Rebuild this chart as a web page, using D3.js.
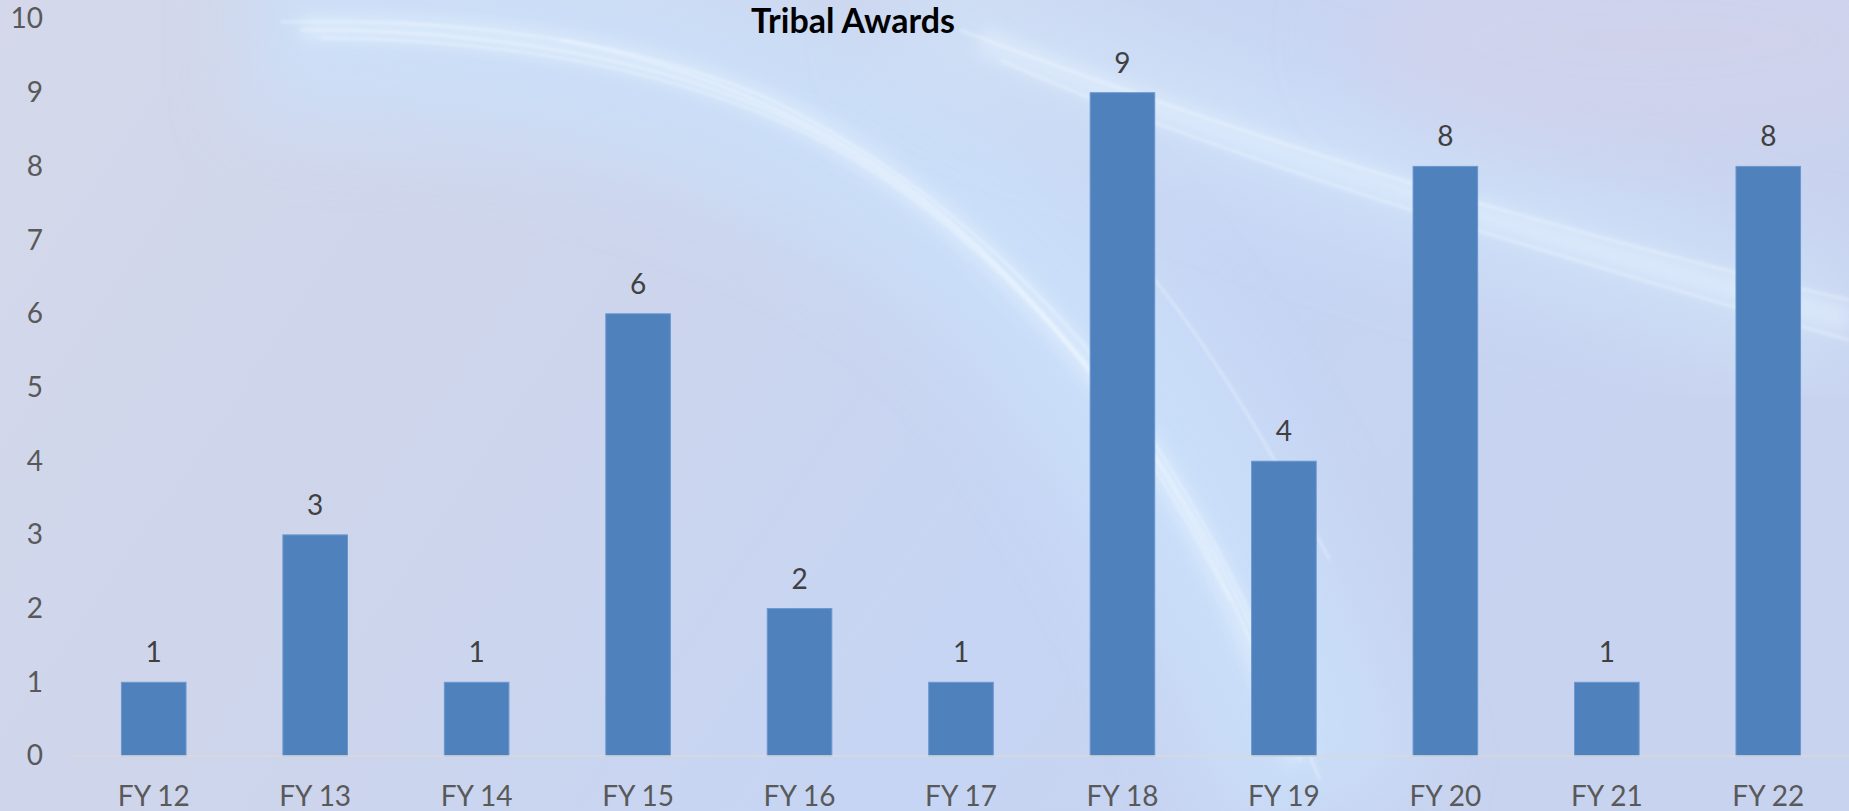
<!DOCTYPE html>
<html>
<head>
<meta charset="utf-8">
<script src="https://cdn.jsdelivr.net/npm/d3@7"></script>
<style>
  html, body { margin: 0; padding: 0; overflow: hidden; }
  svg { display: block; font-family: Lato, "Open Sans", sans-serif; }
</style>
</head>
<body>
<svg id="chart"></svg>
<script>
// data
const years = ["FY 12", "FY 13", "FY 14", "FY 15", "FY 16", "FY 17", "FY 18", "FY 19", "FY 20", "FY 21", "FY 22"];
const awards = [1, 3, 1, 6, 2, 1, 9, 4, 8, 1, 8];
const yTicks = [0, 1, 2, 3, 4, 5, 6, 7, 8, 9, 10];
const chartTitle = "Tribal Awards";

const width = 1849, height = 811;
const margin = { top: 19, right: 0, bottom: 55, left: 73 };

const svg = d3.select("#chart")
    .attr("width", width)
    .attr("height", height);

// background: soft gradient with light streaks
const defs = svg.append("defs");
const bg = defs.append("linearGradient")
    .attr("id", "bg").attr("x1", 0).attr("y1", 0).attr("x2", 1).attr("y2", 0.3);
bg.append("stop").attr("offset", "0%").attr("stop-color", "#d4d8ea");
bg.append("stop").attr("offset", "40%").attr("stop-color", "#cdd5ec");
bg.append("stop").attr("offset", "70%").attr("stop-color", "#c6d5f4");
bg.append("stop").attr("offset", "100%").attr("stop-color", "#c8d3ef");

defs.append("filter").attr("id", "blurBig")
    .attr("x", "-20%").attr("y", "-20%").attr("width", "140%").attr("height", "140%")
    .append("feGaussianBlur").attr("stdDeviation", 40);
defs.append("filter").attr("id", "blurMid")
    .attr("x", "-10%").attr("y", "-10%").attr("width", "120%").attr("height", "120%")
    .append("feGaussianBlur").attr("stdDeviation", 8);
defs.append("filter").attr("id", "blurSmall")
    .append("feGaussianBlur").attr("stdDeviation", 1.6);

svg.append("rect")
    .attr("width", width).attr("height", height)
    .attr("fill", "url(#bg)");

const streaks = svg.append("g").attr("class", "streaks");

// broad bluish glow band
streaks.append("path")
    .attr("d", "M250,20 C600,20 900,120 1050,300 C1180,460 1260,620 1330,811")
    .attr("fill", "none").attr("stroke", "#cae1fb").attr("stroke-width", 200)
    .attr("opacity", 0.75).attr("filter", "url(#blurBig)");
streaks.append("path")
    .attr("d", "M900,0 C1200,120 1500,220 1849,330")
    .attr("fill", "none").attr("stroke", "#d2e6fb").attr("stroke-width", 120)
    .attr("opacity", 0.6).attr("filter", "url(#blurBig)");
// top right lavender
streaks.append("ellipse")
    .attr("cx", 1650).attr("cy", 40).attr("rx", 300).attr("ry", 110)
    .attr("fill", "#d6d2e8").attr("opacity", 0.6).attr("filter", "url(#blurBig)");

// soft white haze along the arcs
const hazes = [
    "M300,28 C520,26 680,60 800,120 C930,190 1020,280 1100,380 C1170,470 1230,580 1300,760",
    "M980,40 C1250,150 1550,240 1849,320"
];
streaks.selectAll("path.haze")
    .data(hazes)
    .enter().append("path")
    .attr("class", "haze")
    .attr("d", d => d)
    .attr("fill", "none")
    .attr("stroke", "#e8f4ff")
    .attr("stroke-width", 28)
    .attr("opacity", 0.45)
    .attr("filter", "url(#blurMid)");

// thin bright lines
const lines = [
    "M280,22 C480,18 640,45 760,95 C900,160 1000,250 1080,340 C1160,440 1230,560 1290,700",
    "M300,30 C500,30 660,60 790,120 C920,185 1010,270 1100,380 C1170,470 1230,580 1300,760",
    "M320,38 C520,40 680,72 810,135 C935,200 1025,290 1115,400 C1185,490 1245,600 1320,780",
    "M560,40 C720,70 860,140 960,230 C1060,320 1140,430 1230,600",
    "M1000,60 C1200,150 1500,240 1849,340",
    "M960,30 C1250,140 1550,230 1849,300",
    "M1130,250 C1200,330 1260,430 1330,560"
];
streaks.selectAll("path.line")
    .data(lines)
    .enter().append("path")
    .attr("class", "line")
    .attr("d", d => d)
    .attr("fill", "none")
    .attr("stroke", "#f6fbff")
    .attr("stroke-width", 2.5)
    .attr("opacity", 0.4)
    .attr("filter", "url(#blurSmall)");

// scales
const xScale = d3.scaleBand()
    .domain(years)
    .range([margin.left, width - margin.right])
    .paddingInner(0.6)
    .paddingOuter(0.3);

const yScale = d3.scaleLinear()
    .domain([0, 10])
    .range([height - margin.bottom, margin.top]);

// y axis labels (no line)
const yAxis = svg.append("g")
    .attr("transform", `translate(43,0)`)
    .call(d3.axisLeft(yScale).tickValues(yTicks).tickSize(0).tickPadding(0));
yAxis.select(".domain").remove();
yAxis.selectAll("text")
    .attr("fill", "#595959")
    .style("font-family", "Lato, sans-serif")
    .style("font-size", "28px");

// bars
svg.selectAll("rect.bar")
    .data(awards)
    .enter().append("rect")
    .attr("class", "bar")
    .attr("x", (d, i) => xScale(years[i]))
    .attr("y", d => yScale(d))
    .attr("width", xScale.bandwidth())
    .attr("height", d => yScale(0) - yScale(d))
    .attr("fill", "#4f81bd")
    .attr("stroke", "#6b97cf")
    .attr("stroke-width", 1);

// baseline
svg.append("line")
    .attr("x1", margin.left).attr("x2", width)
    .attr("y1", yScale(0)).attr("y2", yScale(0))
    .attr("stroke", "#d9d9d9")
    .attr("stroke-width", 1.5);

// x axis labels
const xAxis = svg.append("g")
    .attr("transform", `translate(0,${yScale(0)})`)
    .call(d3.axisBottom(xScale).tickSize(0).tickPadding(30));
xAxis.select(".domain").remove();
xAxis.selectAll("text")
    .attr("fill", "#595959")
    .style("font-family", "Lato, sans-serif")
    .style("font-size", "28px");

// value labels
svg.selectAll("text.value")
    .data(awards)
    .enter().append("text")
    .attr("class", "value")
    .attr("x", (d, i) => xScale(years[i]) + xScale.bandwidth() / 2)
    .attr("y", d => yScale(d) - 20)
    .attr("text-anchor", "middle")
    .attr("fill", "#404040")
    .style("font-size", "28px")
    .text(d => d);

// title
svg.append("text")
    .attr("x", 853)
    .attr("y", 33)
    .attr("text-anchor", "middle")
    .attr("fill", "#000")
    .style("font-size", "34px")
    .style("font-weight", "bold")
    .text(chartTitle);
</script>
</body>
</html>
